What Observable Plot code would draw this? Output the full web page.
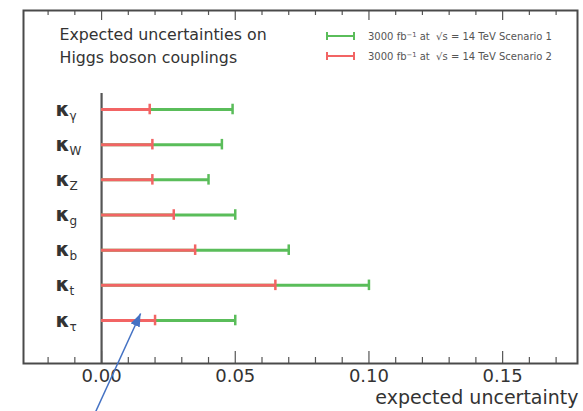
<!DOCTYPE html>
<html><head><meta charset="utf-8">
<script src="https://cdn.jsdelivr.net/npm/d3@7"></script>
<script src="https://cdn.jsdelivr.net/npm/@observablehq/plot@0.6"></script>
<style>
body{margin:0;background:#fff}
#chart{width:583px;height:411px}
</style>
</head><body><div id="chart"></div>
<script>
// ---- data ----
const couplings = ["γ", "W", "Z", "g", "b", "t", "τ"];
const scenario1 = [0.049, 0.045, 0.040, 0.050, 0.070, 0.100, 0.050];
const scenario2 = [0.018, 0.019, 0.019, 0.027, 0.035, 0.065, 0.020];
const majorTicks = [0, 0.05, 0.10, 0.15];
const minorTicks = [-0.02, -0.01, 0.01, 0.02, 0.03, 0.04, 0.06, 0.07, 0.08, 0.09, 0.11, 0.12, 0.13, 0.14, 0.16, 0.17];
const tickLabels = ["0.00", "0.05", "0.10", "0.15"];
const titleLines = ["Expected uncertainties on", "Higgs boson couplings"];
const legendLabels = ["Scenario 1", "Scenario 2"];
const axisTitle = "expected uncertainty";
const arrowStart = {x: -0.0022, y: 8.59};
const arrowEnd = {x: 0.0146, y: 5.80};

const rows = couplings.map((c, i) => ({c, i, s1: scenario1[i], s2: scenario2[i]}));

const W = 583, H = 411, mT = 10, mB = 48, mL = 23, mR = 6;
const plotH = H - mT - mB;
const green = "#5abd5a", red = "#f26464";
const capHalf = 0.15;

const chart = Plot.plot({
  width: W, height: H,
  marginTop: mT, marginBottom: mB, marginLeft: mL, marginRight: mR,
  style: {fontFamily: "DejaVu Sans", background: "#fff"},
  x: {domain: [-0.0292, 0.178], axis: null},
  y: {domain: [7.222, -2.815], axis: null},
  marks: [
    // title
    Plot.text([titleLines.join("\n")], {frameAnchor: "top-left", dx: 36, dy: 52, lineAnchor: "bottom", lineHeight: 1.45, textAnchor: "start", fontSize: 15.8, fill: "#333"}),
    // zero line
    Plot.ruleX([0], {stroke: "#555", strokeWidth: 2.2, insetTop: 83}),
    // scenario 1 bars
    Plot.ruleY(rows, {y: "i", x1: 0, x2: "s1", stroke: green, strokeWidth: 3}),
    Plot.ruleX(rows, {x: "s1", y1: d => d.i - capHalf, y2: d => d.i + capHalf, stroke: green, strokeWidth: 2.5}),
    // scenario 2 bars
    Plot.ruleY(rows, {y: "i", x1: 0, x2: "s2", stroke: red, strokeWidth: 3}),
    Plot.ruleX(rows, {x: "s2", y1: d => d.i - capHalf, y2: d => d.i + capHalf, stroke: red, strokeWidth: 2.5}),
    // kappa labels
    Plot.text(rows, {y: "i", text: () => "κ", frameAnchor: "left", dx: 32, dy: 6, lineAnchor: "bottom", textAnchor: "start", fontSize: 20, fontWeight: 600, fill: "#333"}),
    Plot.text(rows, {y: "i", text: "c", frameAnchor: "left", dx: 46, dy: 10, lineAnchor: "bottom", textAnchor: "start", fontSize: 12, fill: "#333"}),
    // ticks
    Plot.ruleX(minorTicks, {x: d => d, stroke: "#555", strokeWidth: 1.2, insetTop: plotH - 6}),
    Plot.ruleX(majorTicks, {x: d => d, stroke: "#555", strokeWidth: 1.2, insetTop: plotH - 12}),
    Plot.ruleX(minorTicks, {x: d => d, stroke: "#555", strokeWidth: 1.2, insetBottom: plotH - 5}),
    Plot.ruleX(majorTicks, {x: d => d, stroke: "#555", strokeWidth: 1.2, insetBottom: plotH - 10}),
    Plot.frame({stroke: "#4a4a4a", strokeWidth: 2}),
    // tick labels
    Plot.text(majorTicks, {x: d => d, text: (d, i) => tickLabels[i], frameAnchor: "bottom", dy: 18.5, lineAnchor: "bottom", fontSize: 18, fill: "#333"}),
    // axis title
    Plot.text([axisTitle], {frameAnchor: "bottom-right", dx: 1, dy: 40, lineAnchor: "bottom", textAnchor: "end", fontSize: 19, fill: "#333"}),
    // annotation arrow
    Plot.link([{}], {x1: () => arrowStart.x, y1: () => arrowStart.y, x2: () => arrowEnd.x, y2: () => arrowEnd.y, stroke: "#4472c4", strokeWidth: 1.5, className: "annot-arrow", clip: false})
  ]
});
document.getElementById("chart").appendChild(chart);

// arrowhead marker
const svg = d3.select(chart);
const defs = svg.append("defs");
defs.append("marker")
  .attr("id", "bluehead").attr("markerUnits", "userSpaceOnUse")
  .attr("viewBox", "0 0 13 10").attr("refX", 13).attr("refY", 5)
  .attr("markerWidth", 13).attr("markerHeight", 10).attr("orient", "auto")
  .append("path").attr("d", "M0,0L13,5L0,10Z").attr("fill", "#4472c4");
svg.selectAll(".annot-arrow path").attr("marker-end", "url(#bluehead)");

// legend
const leg = svg.append("g").attr("font-family", "DejaVu Sans");
[[green, 36], [red, 56]].forEach(([col, y], k) => {
  const g = leg.append("g").attr("stroke", col).attr("stroke-width", 2);
  g.append("line").attr("x1", 327).attr("x2", 354).attr("y1", y).attr("y2", y);
  g.append("line").attr("x1", 327).attr("x2", 327).attr("y1", y - 4).attr("y2", y + 4);
  g.append("line").attr("x1", 354).attr("x2", 354).attr("y1", y - 4).attr("y2", y + 4);
  const t = leg.append("text").attr("x", 368).attr("y", y + 3.5).attr("font-size", 10).attr("fill", "#555").attr("text-anchor", "start");
  t.append("tspan").text("3000 fb");
  t.append("tspan").attr("dy", -3).attr("font-size", 6.8).text("−1");
  t.append("tspan").attr("dy", 3).text(" at  √s = 14 TeV " + legendLabels[k]);
});
</script>
</body></html>
